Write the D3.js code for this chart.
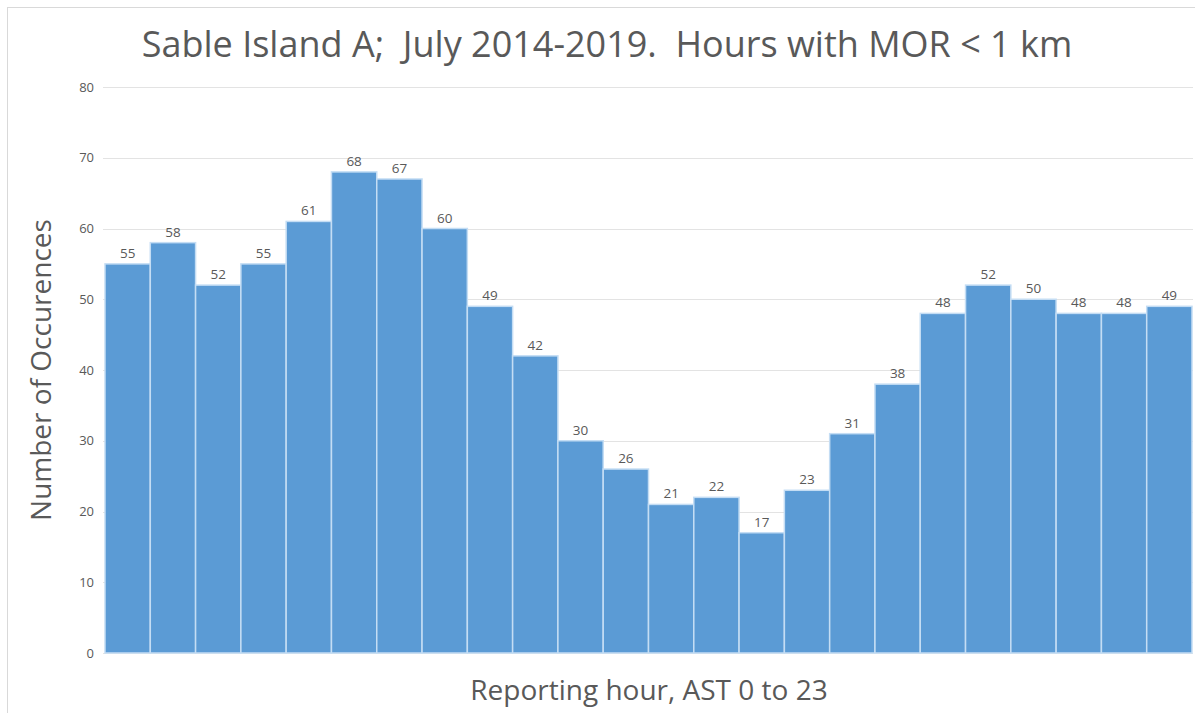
<!DOCTYPE html>
<html>
<head>
<meta charset="utf-8">
<script src="https://cdn.jsdelivr.net/npm/d3@7"></script>
<style>
body { margin: 0; background: #fff; }
text { font-family: "Open Sans", "Liberation Sans", sans-serif; }
</style>
</head>
<body>
<script>
//hourly counts, one per reporting hour
var hours = d3.range(0, 24);
var counts = [55, 58, 52, 55, 61, 68, 67, 60, 49, 42, 30, 26, 21, 22, 17, 23, 31, 38, 48, 52, 50, 48, 48, 49];
var yTicks = [0, 10, 20, 30, 40, 50, 60, 70, 80];

window.onload = function(){
    var width = 1195, height = 713;
    var svg = d3.select("body")
        .append("svg")
        .attr("width", width)
        .attr("height", height);

    //light frame round the chart
    svg.append("rect")
        .attr("x", 7.5)
        .attr("y", 7.5)
        .attr("width", width + 20)
        .attr("height", height + 20)
        .style("fill", "none")
        .style("stroke", "#d9d9d9");

    var x = d3.scaleBand()
        .domain(hours)
        .range([105, 1192])
        .padding(0);

    var y = d3.scaleLinear()
        .domain([0, 80])
        .range([653, 87]);

    //gridlines
    svg.selectAll(".grid")
        .data(yTicks)
        .enter()
        .append("line")
        .attr("class", "grid")
        .attr("x1", 103)
        .attr("x2", 1193)
        .attr("y1", function(d){ return Math.round(y(d)) + 0.5; })
        .attr("y2", function(d){ return Math.round(y(d)) + 0.5; })
        .style("stroke", "#e3e3e3")
        .style("stroke-width", 1.2);

    //y axis, labels only
    var yAxis = d3.axisLeft(y)
        .tickValues(yTicks)
        .tickSize(0)
        .tickPadding(0);
    var axis = svg.append("g")
        .attr("transform", "translate(94, 0)")
        .call(yAxis);
    axis.select(".domain").remove();
    axis.selectAll("text")
        .style("font-size", "13px")
        .style("fill", "#595959")
        .style("font-family", "'Open Sans', sans-serif");

    //bars
    svg.selectAll(".bar")
        .data(counts)
        .enter()
        .append("rect")
        .attr("class", "bar")
        .attr("x", function(d, i){ return x(i); })
        .attr("width", x.bandwidth())
        .attr("y", function(d){ return y(d); })
        .attr("height", function(d){ return y(0) - y(d); })
        .style("fill", "#5b9bd5")
        .style("stroke", "#c4ddf4")
        .style("stroke-width", 1.5);

    //value labels
    svg.selectAll(".label")
        .data(counts)
        .enter()
        .append("text")
        .attr("class", "label")
        .attr("text-anchor", "middle")
        .attr("x", function(d, i){ return x(i) + x.bandwidth() / 2; })
        .attr("y", function(d){ return y(d) - 6; })
        .style("font-size", "13.5px")
        .style("fill", "#595959")
        .text(function(d){ return d; });

    //title
    svg.append("text")
        .attr("text-anchor", "middle")
        .attr("x", 607)
        .attr("y", 57)
        .attr("xml:space", "preserve")
        .style("font-size", "36px")
        .style("fill", "#595959")
        .text("Sable Island A;  July 2014-2019.  Hours with MOR < 1 km");

    //axis titles
    svg.append("text")
        .attr("text-anchor", "middle")
        .attr("x", 649)
        .attr("y", 700)
        .style("font-size", "28px")
        .style("fill", "#595959")
        .text("Reporting hour, AST 0 to 23");

    svg.append("text")
        .attr("text-anchor", "middle")
        .attr("transform", "translate(51, 370) rotate(-90)")
        .style("font-size", "28px")
        .style("fill", "#595959")
        .text("Number of Occurences");
};
</script>
</body>
</html>
